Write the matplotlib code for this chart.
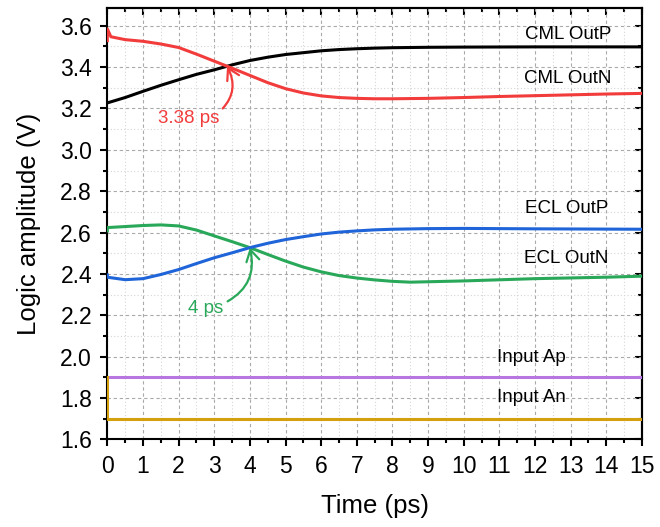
#!/usr/bin/env python3
"""Logic amplitude vs time for CML / ECL outputs and inputs."""

import matplotlib.pyplot as plt
from matplotlib.ticker import MultipleLocator, NullFormatter

# CML outputs
cml_p_t = [0, 0.5, 1.0, 1.5, 2.0, 2.5, 3.0, 3.5, 4.0, 4.5, 5.0, 5.5, 6.0, 6.5, 7.0, 7.5,
           8.0, 9.0, 10, 12, 15]
cml_p_v = [3.227, 3.253, 3.283, 3.312, 3.339, 3.365, 3.387, 3.411, 3.432, 3.448, 3.461,
           3.470, 3.479, 3.485, 3.489, 3.492, 3.494, 3.496, 3.497, 3.498, 3.498]

cml_n_t = [0, 0, 0.1, 0.5, 1.0, 1.5, 2.0, 2.5, 3.0, 3.5, 4.0, 4.5, 5.0, 5.5, 6.0, 6.5,
           7.0, 7.5, 8.0, 9.0, 10, 11, 12, 13, 14, 15]
cml_n_v = [3.528, 3.585, 3.547, 3.533, 3.525, 3.512, 3.495, 3.463, 3.429, 3.395, 3.360,
           3.325, 3.296, 3.275, 3.261, 3.253, 3.249, 3.247, 3.247, 3.249, 3.253, 3.258,
           3.262, 3.266, 3.270, 3.273]

# ECL outputs
ecl_p_t = [0, 0, 0.5, 1.0, 1.5, 2.0, 2.5, 3.0, 3.5, 4.0, 4.5, 5.0, 5.5, 6.0, 6.5, 7.0,
           7.5, 8.0, 9.0, 10, 12, 15]
ecl_p_v = [2.395, 2.384, 2.372, 2.377, 2.397, 2.421, 2.450, 2.478, 2.502, 2.527, 2.548,
           2.566, 2.580, 2.593, 2.602, 2.608, 2.613, 2.616, 2.619, 2.620, 2.618, 2.616]

ecl_n_t = [0, 0, 0.5, 1.0, 1.5, 2.0, 2.5, 3.0, 3.5, 4.0, 4.5, 5.0, 5.5, 6.0, 6.5, 7.0,
           7.5, 8.0, 8.5, 10, 12, 14, 15]
ecl_n_v = [2.608, 2.624, 2.629, 2.634, 2.637, 2.632, 2.612, 2.584, 2.556, 2.527, 2.494,
           2.462, 2.433, 2.410, 2.392, 2.380, 2.371, 2.364, 2.360, 2.366, 2.377, 2.384,
           2.389]

# inputs
in_p_t = [0, 15]
in_p_v = [1.9, 1.9]
in_n_t = [0, 0, 15]
in_n_v = [1.9, 1.7, 1.7]

# crossing annotations: (text, crossing t, crossing v, text t, text v)
cross_cml = ("3.38 ps", 3.36, 3.405, 2.27, 3.154)
cross_ecl = ("4 ps", 4.0, 2.527, 2.77, 2.234)

# curve labels
labels = [
    ("CML OutP", 12.93, 3.557),
    ("CML OutN", 12.93, 3.344),
    ("ECL OutP", 12.88, 2.716),
    ("ECL OutN", 12.88, 2.474),
    ("Input Ap", 11.9, 1.996),
    ("Input An", 11.9, 1.803),
]

RED = "#f23c3c"
GREEN = "#2aa85a"

plt.rcParams.update({
    "font.family": ["Liberation Sans", "DejaVu Sans"],
    "axes.linewidth": 1.5,
    "lines.solid_joinstyle": "round",
})

fig = plt.figure(figsize=(6.6, 5.27), dpi=100)
ax = fig.add_axes([0.1626, 0.1664, 0.810, 0.8184])

lw = 2.2
ax.plot(in_p_t, in_p_v, color="#b877e0", lw=lw, zorder=3)
ax.plot(in_n_t, in_n_v, color="#d4a00e", lw=lw, zorder=3)
ax.plot(ecl_n_t, ecl_n_v, color=GREEN, lw=lw, zorder=3)
ax.plot(ecl_p_t, ecl_p_v, color="#1f64d8", lw=lw, zorder=3)
ax.plot(cml_p_t, cml_p_v, color="black", lw=lw, zorder=3)
ax.plot(cml_n_t, cml_n_v, color=RED, lw=lw, zorder=3)

for txt, x, y in labels:
    ax.text(x, y, txt, ha="center", va="center", fontsize=13.5, zorder=4)

for (txt, xc, yc, xt, yt), col in ((cross_cml, RED), (cross_ecl, GREEN)):
    ax.annotate(
        txt, xy=(xc, yc), xytext=(xt, yt), ha="center", va="center",
        fontsize=13.5, color=col, zorder=5,
        arrowprops=dict(arrowstyle="->,head_length=0.6,head_width=0.35", color=col, lw=1.6,
                        connectionstyle="arc3,rad=0.4", shrinkA=1, shrinkB=0,
                        relpos=(0.97, 0.75)),
    )

ax.set_xlim(0, 15)
ax.set_ylim(1.6, 3.686)
ax.xaxis.set_major_locator(MultipleLocator(1))
ax.xaxis.set_minor_locator(MultipleLocator(0.5))
ax.yaxis.set_major_locator(MultipleLocator(0.2))
ax.yaxis.set_minor_locator(MultipleLocator(0.1))
ax.yaxis.set_major_formatter(plt.FuncFormatter(lambda v, _: f"{v:.1f}"))

ax.grid(True, which="major", linestyle=(0, (3, 2.5)), color="#aaaaaa", linewidth=0.8)
ax.grid(True, which="minor", linestyle=(0, (1, 2)), color="#d6d6d6", linewidth=0.8)
ax.set_axisbelow(True)

ax.tick_params(which="major", direction="out", length=5, width=1.5, labelsize=16.5)
ax.tick_params(which="minor", direction="out", length=3, width=1.5)
ax.tick_params(axis="x", which="major", pad=6)
ax.tick_params(axis="y", which="major", pad=6)

# inward ticks on top and right
top = ax.secondary_xaxis("top")
top.xaxis.set_major_locator(MultipleLocator(1))
top.xaxis.set_minor_locator(MultipleLocator(0.5))
top.xaxis.set_major_formatter(NullFormatter())
top.tick_params(which="major", direction="in", length=5, width=1.5)
top.tick_params(which="minor", direction="in", length=3, width=1.5)
right = ax.secondary_yaxis("right")
right.yaxis.set_major_locator(MultipleLocator(0.2))
right.yaxis.set_minor_locator(MultipleLocator(0.1))
right.yaxis.set_major_formatter(NullFormatter())
right.tick_params(which="major", direction="in", length=5, width=1.5)
right.tick_params(which="minor", direction="in", length=3, width=1.5)

ax.set_xlabel("Time (ps)", fontsize=18.5, labelpad=12)
ax.set_ylabel("Logic amplitude (V)", fontsize=18.5, labelpad=14)

fig.savefig("out.png", dpi=100)
